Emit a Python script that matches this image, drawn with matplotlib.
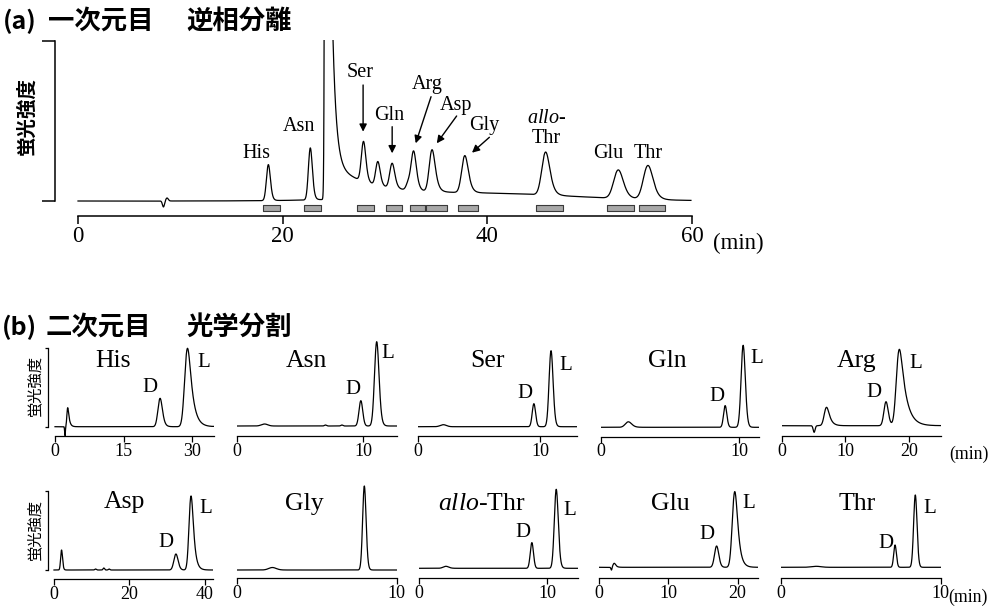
import numpy as np
import matplotlib
matplotlib.use("Agg")
import matplotlib.pyplot as plt

plt.rcParams['font.family'] = ['Liberation Serif', 'DejaVu Serif']
plt.rcParams['mathtext.fontset'] = 'custom'
plt.rcParams['mathtext.rm'] = 'Liberation Serif'
plt.rcParams['mathtext.it'] = 'Liberation Serif:italic'
CJK = ['Noto Sans CJK JP', 'DejaVu Sans']

# ------------------------------------------------------------------ data
title_a = ["(a)", "一次元目", "逆相分離"]
title_b = ["(b)", "二次元目", "光学分割"]
ylabel_text = "蛍光強度"
unit_text = "(min)"

# (a) first dimension: peaks (retention time, height, sigma, tailing tau)
a_tmax = 59.9
a_xticks = [0, 20, 40, 60]
a_peak_t = [8.35, 8.70, 18.6, 22.7, 24.3, 27.9, 29.3, 30.7, 32.3, 32.8, 34.6, 37.8, 45.7, 52.8, 55.7, 40.0]
a_peak_h = [-6.0, 3.0, 36, 52, 4150, 40, 24, 25, 8, 39, 42, 37, 43, 28.5, 34, 7.0]
a_peak_s = [0.10, 0.12, 0.17, 0.17, 0.098, 0.19, 0.19, 0.21, 0.2, 0.21, 0.24, 0.27, 0.33, 0.40, 0.40, 9.0]
a_peak_tau = [0, 0, 0.12, 0.12, 0, 0.15, 0.15, 0.18, 0.1, 0.2, 0.25, 0.25, 0.3, 0.35, 0.35, 0]
a_tail_amp = [100.0, 33.3]      # solvent front tailing
a_tail_tau = [0.35, 4.23]
a_tail_ref = 25.0
a_tail_onset = 24.4
# fraction bars (start, end in min)
a_frac_start = [18.1, 22.1, 27.3, 30.1, 32.4, 34.0, 37.1, 44.8, 51.7, 54.8]
a_frac_end = [19.7, 23.7, 28.9, 31.7, 33.9, 36.1, 39.1, 47.4, 54.3, 57.4]
# labels without arrows
a_plain_labels = ["His", "Asn", "Glu", "Thr"]
a_plain_t = [17.4, 21.6, 51.8, 55.7]
a_plain_y = [42.7, 70.0, 42.7, 43.3]
# labels with arrows
a_arrow_labels = ["Ser", "Gln", "Arg", "Asp", "Gly"]
a_arrow_label_t = [27.6, 30.4, 34.1, 36.95, 39.7]
a_arrow_label_y = [124.3, 81.0, 111.7, 91.0, 71.0]
a_arrow_from_t = [27.86, 30.7, 34.5, 37.0, 40.2]
a_arrow_from_y = [116, 74.3, 104.3, 85, 63.7]
a_arrow_to_t = [27.86, 30.7, 33.0, 35.06, 38.5]
a_arrow_to_y = [69.3, 47.7, 57.7, 57.7, 48.3]
a_allo_t = 45.75
a_allo_y = [77.7, 58.3]

# (b) second dimension (chiral): one chromatogram per amino acid
b_names = ["His", "Asn", "Ser", "Gln", "Arg",
           "Asp", "Gly", r"$\mathit{allo}$-Thr", "Glu", "Thr"]
b_tmax = [34.8, 12.63, 13.0, 11.47, 25.0, 42.2, 10.0, 12.42, 23.0, 10.0]
b_xticks = [[0, 15, 30], [0, 10], [0, 10], [0, 10], [0, 10, 20],
            [0, 20, 40], [0, 10], [0, 10], [0, 10, 20], [0, 10]]

his_t = [2.19, 2.78, 23.0, 29.0];   his_h = [-9, 19, 28.4, 78.4]
his_s = [0.08, 0.14, 0.42, 0.5];    his_tau = [0, 0.3, 0.35, 0.9]
asn_t = [2.2, 7.0, 8.3, 9.8, 11.05]; asn_h = [2, 1, 1, 25.3, 84.3]
asn_s = [0.25, 0.08, 0.08, 0.14, 0.16]; asn_tau = [0, 0, 0, 0.05, 0.1]
ser_t = [2.1, 9.5, 10.9];           ser_h = [2, 23, 76]
ser_s = [0.25, 0.13, 0.15];         ser_tau = [0, 0.05, 0.08]
gln_t = [2.0, 9.0, 10.3];           gln_h = [5.5, 21.7, 82]
gln_s = [0.2, 0.11, 0.14];          gln_tau = [0.15, 0.05, 0.07]
arg_t = [5.1, 7.05, 16.4, 18.5];    arg_h = [-6.6, 18.4, 24, 76.4]
arg_s = [0.15, 0.3, 0.3, 0.36];     arg_tau = [0, 0.45, 0.2, 0.9]
asp_t = [2.0, 11.0, 13.2, 14.6, 32.3, 36.3]; asp_h = [20, 1, 2, 1, 16, 74]
asp_s = [0.22, 0.2, 0.2, 0.2, 0.5, 0.45]; asp_tau = [0.15, 0, 0, 0, 0.3, 0.6]
gly_t = [2.2, 7.97];                gly_h = [2.5, 84]
gly_s = [0.22, 0.1];                gly_tau = [0.1, 0.05]
allo_t = [2.1, 8.8, 10.7];          allo_h = [2, 25.7, 79]
allo_s = [0.2, 0.12, 0.14];         allo_tau = [0.1, 0.04, 0.08]
glu_t = [1.8, 2.2, 16.98, 19.6];    glu_h = [-3, 4, 21.3, 75.7]
glu_s = [0.08, 0.15, 0.28, 0.3];    glu_tau = [0, 0.2, 0.15, 0.4]
thr_t = [2.2, 7.14, 8.41];          thr_h = [1, 22.3, 72.3]
thr_s = [0.3, 0.08, 0.1];           thr_tau = [0, 0.03, 0.04]

b_peaks = [(his_t, his_h, his_s, his_tau), (asn_t, asn_h, asn_s, asn_tau),
           (ser_t, ser_h, ser_s, ser_tau), (gln_t, gln_h, gln_s, gln_tau),
           (arg_t, arg_h, arg_s, arg_tau), (asp_t, asp_h, asp_s, asp_tau),
           (gly_t, gly_h, gly_s, gly_tau), (allo_t, allo_h, allo_s, allo_tau),
           (glu_t, glu_h, glu_s, glu_tau), (thr_t, thr_h, thr_s, thr_tau)]

# label positions (data coords of each panel): name, D, L
b_name_pos = [(12.77, 60), (5.52, 59.3), (5.67, 60), (4.83, 60.6), (11.77, 59),
              (18.6, 61.7), (4.2, 60), (4.89, 58.3), (10.25, 57.3), (4.74, 57.3)]
b_D_pos = [(20.8, 35), (9.2, 32), (8.8, 28.4), (8.39, 26.6), (14.52, 28.4),
           (29.7, 23.3), None, (8.07, 31), (15.54, 28), (6.56, 19)]
b_L_pos = [(32.5, 60), (11.95, 67.7), (12.08, 56.7), (11.3, 64), (21.05, 57.4),
           (40.3, 56.7), None, (11.75, 53.3), (21.55, 59), (9.31, 54.6)]

# ------------------------------------------------------------------ layout (pixels)
W, H = 989, 606
fig = plt.figure(figsize=(W / 100, H / 100), dpi=100)


def px_axes(left, right, top, bottom):
    ax = fig.add_axes([left / W, 1 - bottom / H, (right - left) / W, (bottom - top) / H])
    ax.set_facecolor('none')
    return ax


def ftext(x, y, s, **kw):
    return fig.text(x / W, 1 - y / H, s, **kw)


def peak_curve(t, c, h, s, tau):
    g = np.exp(-0.5 * ((t - c) / s) ** 2)
    if tau > 0:
        dt = t[1] - t[0]
        k = np.exp(-np.arange(0, 10 * tau, dt) / tau)
        y = np.convolve(g, k)[:len(t)]
        shift = t[np.argmax(y)] - c
        y = np.interp(t + shift, t, y)
    else:
        y = g
    return h * y / y.max()


def chromatogram(t, pt, ph, ps, ptau):
    y = np.zeros_like(t)
    for c, h, s, tau in zip(pt, ph, ps, ptau):
        y += peak_curve(t, c, h, s, tau)
    return y


# ---------------- panel (a)
ax_left, x0a, x60a, a_top, a_base, a_axis = 55, 78, 692, 40, 201, 216
sc = (x60a - x0a) / 60.0
axa = px_axes(ax_left, x60a, a_top, a_axis)
axa.set_xlim(-(x0a - ax_left) / sc, 60)
axa.set_ylim(-(a_axis - a_base), a_base - a_top)

ta = np.arange(0, a_tmax, 0.005)
ya = chromatogram(ta, a_peak_t, a_peak_h, a_peak_s, a_peak_tau)
tail = np.zeros_like(ta)
for A, tau in zip(a_tail_amp, a_tail_tau):
    tail += A * np.exp(-(ta - a_tail_ref) / tau)
ya += np.where(ta >= a_tail_onset, tail, 0)
axa.plot(ta, ya, color='black', lw=0.9)

axa.broken_barh([(s, e - s) for s, e in zip(a_frac_start, a_frac_end)], (-9.8, 6.3),
                facecolor='#a8a8a8', edgecolor='#3a3a3a', linewidth=0.8)

for sp in ['top', 'right']:
    axa.spines[sp].set_visible(False)
axa.spines['left'].set_bounds(0, 160)
axa.spines['bottom'].set_bounds(0, 60)
for sp in ['left', 'bottom']:
    axa.spines[sp].set_linewidth(1.1)
axa.set_yticks([0, 160])
axa.set_yticklabels([])
axa.tick_params(axis='y', direction='out', length=9.5, width=1.1)
axa.set_xticks(a_xticks)
axa.set_xticklabels([str(v) for v in a_xticks])
axa.tick_params(axis='x', direction='out', length=6, width=1.1, labelsize=16.5, pad=1.5)

for lab, t, y in zip(a_plain_labels, a_plain_t, a_plain_y):
    axa.text(t, y, lab, ha='center', va='baseline', fontsize=14.5, clip_on=False)
for lab, lt, ly, ft, fy, tt, ty in zip(a_arrow_labels, a_arrow_label_t, a_arrow_label_y,
                                       a_arrow_from_t, a_arrow_from_y, a_arrow_to_t, a_arrow_to_y):
    axa.text(lt, ly, lab, ha='center', va='baseline', fontsize=14.5, clip_on=False)
    axa.annotate('', xy=(tt, ty), xytext=(ft, fy),
                 arrowprops=dict(arrowstyle='-|>', color='black', lw=1.0,
                                 mutation_scale=11, shrinkA=0, shrinkB=0))
axa.text(a_allo_t, a_allo_y[0], r"$\mathit{allo}$-", ha='center', va='baseline', fontsize=14.5)
axa.text(a_allo_t, a_allo_y[1], "Thr", ha='center', va='baseline', fontsize=14.5)

ftext(713, 249.3, unit_text, ha='left', va='baseline', fontsize=16.5)
ftext(27, 116, ylabel_text, rotation=90, ha='center', va='center', fontsize=14,
      family=CJK, fontweight='bold')

# titles
tkw = dict(ha='left', va='center', family=CJK, fontweight='bold')
ftext(3, 21, title_a[0], fontsize=18, **tkw)
ftext(48, 21, title_a[1], fontsize=19, **tkw)
ftext(186, 21, title_a[2], fontsize=19, **tkw)
ftext(2, 327.5, title_b[0], fontsize=18, **tkw)
ftext(46, 327.5, title_b[1], fontsize=19, **tkw)
ftext(186, 327.5, title_b[2], fontsize=19, **tkw)

# ---------------- panels (b)
# (x0 px, right px, baseline px, axis px, bracket x px or None)
b_layout = [(55, 214, 426.7, 435.7, 47.7), (236.7, 396.7, 426, 436, None),
            (417.7, 576.7, 426.7, 436, None), (600.7, 759.3, 427.3, 436.5, None),
            (781.7, 940.7, 425.7, 436, None),
            (54, 213.3, 570, 579.3, 48.3), (237.3, 396.7, 570, 578.3, None),
            (419, 578.3, 568.3, 577.7, None), (599, 758.3, 567.3, 577.7, None),
            (781, 940.7, 567.3, 577.7, None)]

for i, (name, tmax, ticks, peaks, lay) in enumerate(zip(b_names, b_tmax, b_xticks, b_peaks, b_layout)):
    x0, xr, base, axis, brx = lay
    scale = (xr - x0) / tmax
    left = brx if brx is not None else x0
    top = base - 90
    ax = px_axes(left, xr, top, axis)
    ax.set_xlim((left - x0) / scale, tmax)
    ax.set_ylim(-(axis - base), 90)
    t = np.arange(0, tmax, 0.004)
    y = chromatogram(t, *peaks)
    ax.plot(t, y, color='black', lw=0.9)
    for sp in ['top', 'right']:
        ax.spines[sp].set_visible(False)
    ax.spines['bottom'].set_bounds(0, tmax)
    ax.spines['bottom'].set_linewidth(0.9)
    if brx is not None:
        ax.spines['left'].set_bounds(0, 79)
        ax.spines['left'].set_linewidth(0.9)
        ax.set_yticks([0, 79])
        ax.set_yticklabels([])
        ax.tick_params(axis='y', direction='out', length=2.5, width=0.9)
        ftext(brx - 13.5, base - 41, ylabel_text, rotation=90,
              ha='center', va='center', fontsize=11, family=CJK)
    else:
        ax.spines['left'].set_visible(False)
        ax.set_yticks([])
    ax.set_xticks(ticks)
    ax.set_xticklabels([str(v) for v in ticks])
    ax.tick_params(axis='x', direction='out', length=4.2, width=0.9, labelsize=13, pad=0.8)

    nx, ny = b_name_pos[i]
    ax.text(nx, ny, name, ha='center', va='baseline', fontsize=18.5, clip_on=False)
    if b_D_pos[i] is not None:
        ax.text(*b_D_pos[i], "D", ha='center', va='baseline', fontsize=15, clip_on=False)
    if b_L_pos[i] is not None:
        ax.text(*b_L_pos[i], "L", ha='center', va='baseline', fontsize=15, clip_on=False)

ftext(949, 459.3, unit_text, ha='left', va='baseline', fontsize=12.8)
ftext(948, 601.7, unit_text, ha='left', va='baseline', fontsize=12.8)

fig.savefig("out.png", dpi=100)
